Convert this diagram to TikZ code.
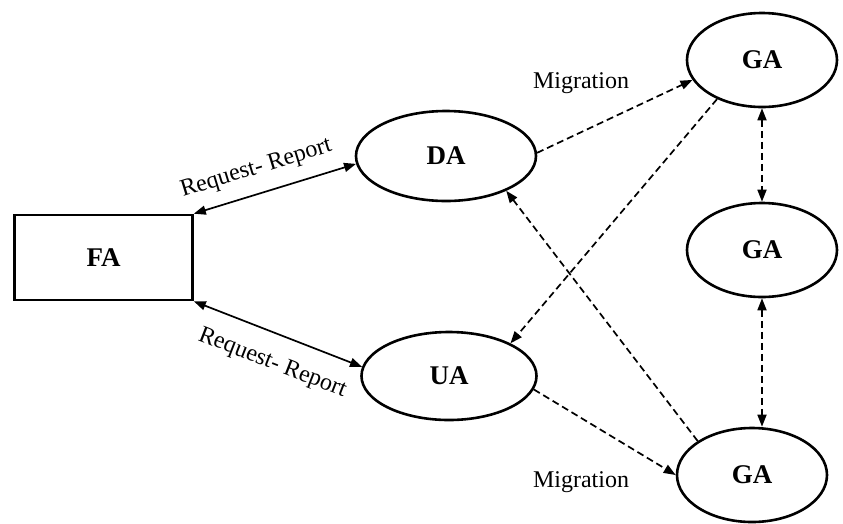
\documentclass[tikz,border=0pt]{standalone}
\usepackage{fontspec}
\setmainfont{Liberation Serif}
\usetikzlibrary{arrows.meta,shapes.geometric}
\begin{document}
\begin{tikzpicture}[x=1pt,y=-1pt,
  >={Triangle[length=12pt,width=9pt]},
  agent/.style={ellipse,draw,line width=2.6pt,inner sep=0pt,font=\fontsize{27}{30}\selectfont\bfseries},
  box/.style={rectangle,draw,line width=2.6pt,inner sep=0pt,minimum width=178pt,minimum height=85pt,font=\fontsize{27}{30}\selectfont\bfseries},
  link/.style={line width=1.7pt,<->},
  flow/.style={line width=1.7pt,dash pattern=on 7pt off 4pt,->},
  flowboth/.style={line width=1.7pt,dash pattern=on 7pt off 4pt,<->},
  lbl/.style={font=\fontsize{24}{28}\selectfont}
]
\useasboundingbox (0,0) rectangle (843,523);
\node[box] (FA) at (103.5,257.5) {FA};
\node[agent,minimum width=180pt,minimum height=90pt] (DA) at (446,156) {DA};
\node[agent,minimum width=175pt,minimum height=88pt] (UA) at (449,376) {UA};
\node[agent,minimum width=150pt,minimum height=94pt] (GAt) at (762,60) {GA};
\node[agent,minimum width=150pt,minimum height=94pt] (GAm) at (762,250) {GA};
\node[agent,minimum width=150pt,minimum height=94pt] (GAb) at (752,475) {GA};

\draw[link] (FA.north east) -- (DA.185)
  node[lbl,pos=0.43,sloped,above=10pt] {Request- Report};
\draw[link] (FA.south east) -- (UA.174)
  node[lbl,pos=0.53,sloped,below=15pt] {Request- Report};

\draw[flow] (DA.2) -- (GAt.196);
\draw[flow] (GAt.221) -- (UA.28);
\draw[flow] (UA.351) -- (GAb.180);
\draw[flow] (GAb.148) -- (DA.330);
\draw[flowboth] (GAt.south) -- (GAm.north);
\coordinate (GAbtop) at (GAm.south |- GAb.north);
\draw[flowboth] (GAm.south) -- (GAbtop);

\node[lbl,anchor=base] (mig1) at (581,88) {Migration};
\node[lbl,anchor=base] (mig2) at (581,487) {Migration};
\end{tikzpicture}
\end{document}
